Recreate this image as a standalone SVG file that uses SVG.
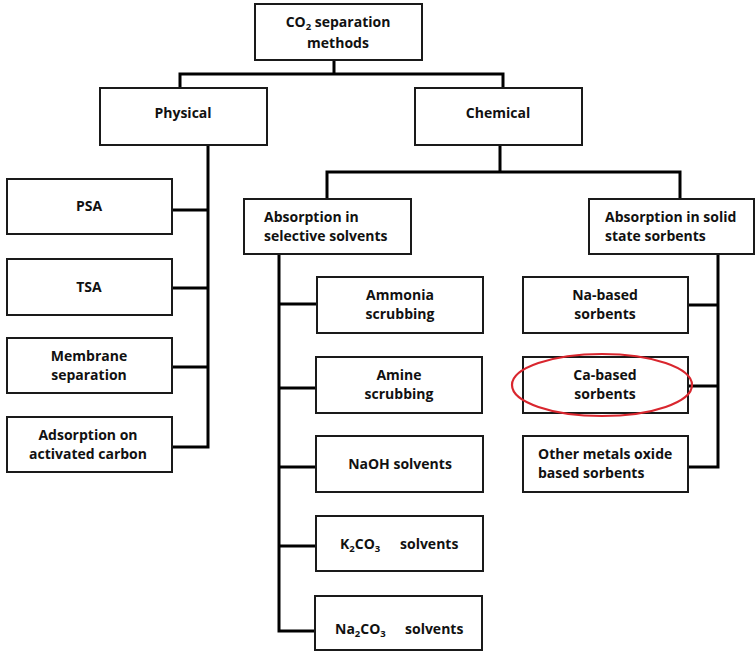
<svg xmlns="http://www.w3.org/2000/svg" width="755" height="652" viewBox="0 0 755 652">
<style>
.box{fill:#fff;stroke:#1a1a1a;stroke-width:2}
.t{font-family:"Open Sans","Liberation Sans",sans-serif;font-weight:bold;font-size:14px;fill:#111;text-anchor:middle}
.l{text-anchor:start}
.c{fill:none;stroke:#000;stroke-width:3;stroke-linecap:square}
.s{font-size:9.5px}
</style>
<rect width="755" height="652" fill="#fff"/>
<g id="connectors">
<path class="c" d="M334 61V74M180 74H503M180 74V88M503 74V88"/>
<path class="c" d="M208 146V447M173 210H208M173 288H208M173 367H208M173 447H208"/>
<path class="c" d="M500 146V172M327 172H680M327 172V199M680 172V199"/>
<path class="c" d="M279 255V631M279 304H316M279 388H316M279 467H316M279 546H316M279 631H315"/>
<path class="c" d="M718 255V467M689 305H718M689 386H718M689 467H718"/>
</g>
<g id="root"><rect class="box" x="255" y="4" width="167" height="56"/>
<text class="t" x="338" y="27">CO<tspan class="s" dy="2.5">2</tspan><tspan dy="-2.5"> separation</tspan></text>
<text class="t" x="338" y="48">methods</text></g>
<g id="physical"><rect class="box" x="100" y="88" width="167" height="57"/><text class="t" x="183" y="118">Physical</text></g>
<g id="chemical"><rect class="box" x="415" y="88" width="167" height="57"/><text class="t" x="498" y="118">Chemical</text></g>
<g id="psa"><rect class="box" x="7" y="179" width="165" height="55"/><text class="t" x="89" y="211">PSA</text></g>
<g id="tsa"><rect class="box" x="7" y="259" width="165" height="56"/><text class="t" x="89" y="292">TSA</text></g>
<g id="membrane"><rect class="box" x="7" y="338" width="165" height="55"/><text class="t" x="89" y="361">Membrane</text><text class="t" x="89" y="380">separation</text></g>
<g id="adsorption"><rect class="box" x="7" y="417" width="165" height="55"/><text class="t" x="88" y="440">Adsorption on</text><text class="t" x="88" y="459">activated carbon</text></g>
<g id="selective"><rect class="box" x="244" y="199" width="167" height="55"/><text class="t l" x="264" y="222">Absorption in</text><text class="t l" x="264" y="241">selective solvents</text></g>
<g id="solid"><rect class="box" x="589" y="199" width="165" height="55"/><text class="t l" x="605" y="222">Absorption in solid</text><text class="t l" x="605" y="241">state sorbents</text></g>
<g id="ammonia"><rect class="box" x="317" y="277" width="166" height="56"/><text class="t" x="400" y="300">Ammonia</text><text class="t" x="400" y="319">scrubbing</text></g>
<g id="amine"><rect class="box" x="316" y="357" width="166" height="56"/><text class="t" x="399" y="380">Amine</text><text class="t" x="399" y="399">scrubbing</text></g>
<g id="naoh"><rect class="box" x="316" y="436" width="167" height="56"/><text class="t" x="400" y="469">NaOH solvents</text></g>
<g id="k2co3"><rect class="box" x="316" y="516" width="167" height="55"/><text class="t l" x="340" y="549">K<tspan class="s" dy="2.5">2</tspan><tspan dy="-2.5">CO</tspan><tspan class="s" dy="2.5">3</tspan><tspan dy="-2.5" x="400">solvents</tspan></text></g>
<g id="na2co3"><rect class="box" x="315" y="596" width="167" height="54"/><text class="t l" x="335" y="634">Na<tspan class="s" dy="2.5">2</tspan><tspan dy="-2.5">CO</tspan><tspan class="s" dy="2.5">3</tspan><tspan dy="-2.5" x="405">solvents</tspan></text></g>
<g id="na-based"><rect class="box" x="523" y="277" width="165" height="56"/><text class="t" x="605" y="300">Na-based</text><text class="t" x="605" y="319">sorbents</text></g>
<g id="ca-based"><rect class="box" x="523" y="357" width="165" height="56"/><text class="t" x="605" y="380">Ca-based</text><text class="t" x="605" y="399">sorbents</text></g>
<g id="other"><rect class="box" x="523" y="436" width="165" height="56"/><text class="t l" x="538" y="459">Other metals oxide</text><text class="t l" x="538" y="478">based sorbents</text></g>
<ellipse cx="602" cy="385" rx="90" ry="31" fill="none" stroke="#d9262e" stroke-width="2.2"/>
</svg>
